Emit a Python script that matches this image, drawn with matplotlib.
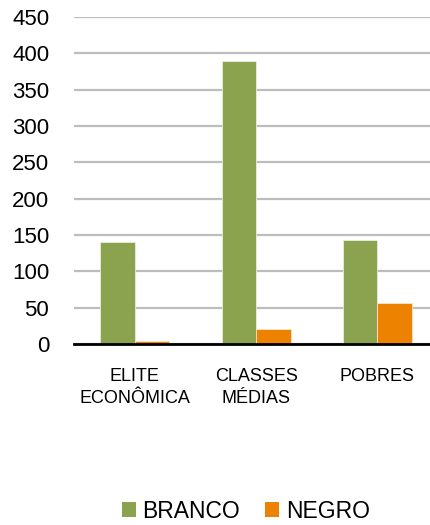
import matplotlib
matplotlib.use("Agg")
import matplotlib.pyplot as plt
from matplotlib.patches import Patch
import numpy as np

categories = ["ELITE\nECONÔMICA", "CLASSES\nMÉDIAS", "POBRES"]
series_names = ["BRANCO", "NEGRO"]
branco = [141, 390, 143]
negro = [4, 20, 56]
yticks = [0, 50, 100, 150, 200, 250, 300, 350, 400, 450]

colors = ["#8BA24E", "#EC8200"]

plt.rcParams['font.family'] = ['Liberation Sans', 'DejaVu Sans']

fig = plt.figure(figsize=(4.31, 5.25), dpi=100)
ax = fig.add_axes([74.25/431, 181/525, (438-74.25)/431, 327/525])

x = np.arange(len(categories))
w = 0.284
ax.bar(x - w/2, branco, w, color=colors[0], edgecolor="#E8EEDC", linewidth=0.6, zorder=3)
ax.bar(x + w/2, negro, w, color=colors[1], edgecolor="#FBE3C8", linewidth=0.6, zorder=3)

ax.set_xlim(-0.5, 2.5)
ax.set_ylim(0, 450)
ax.set_yticks(yticks)
ax.set_yticklabels([str(t) for t in yticks], fontsize=16)
ax.set_xticks(x)
ax.set_xticklabels(categories, fontsize=13, linespacing=1.4)
ax.tick_params(axis='y', length=0, pad=18)
ax.tick_params(axis='x', length=0, pad=17)
ax.grid(axis='y', color="#BDBDBD", linewidth=1.6, zorder=0)
for s in ["top", "right", "left"]:
    ax.spines[s].set_visible(False)
ax.spines["bottom"].set_color("black")
ax.spines["bottom"].set_linewidth(2)
ax.spines["bottom"].set_zorder(4)

handles = [Patch(facecolor=colors[0]), Patch(facecolor=colors[1])]
fig.legend(handles, series_names, loc="center", bbox_to_anchor=(246/431, 1 - 511/525),
           ncol=2, frameon=False, fontsize=16.5, handlelength=0.6, handleheight=0.6,
           handletextpad=0.3, columnspacing=1.1)

fig.savefig("out.png", dpi=100)
